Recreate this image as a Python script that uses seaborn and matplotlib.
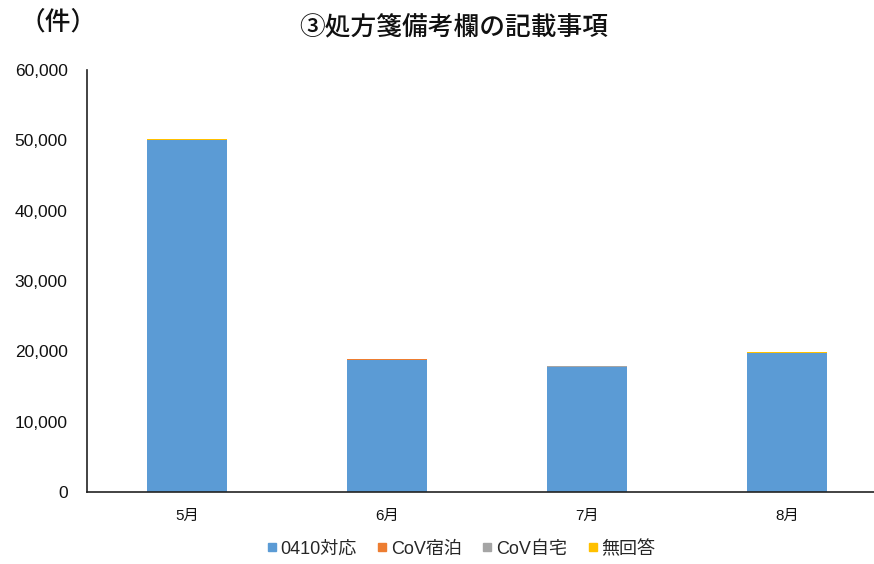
import matplotlib
matplotlib.use("Agg")
import matplotlib.pyplot as plt
import seaborn as sns
import pandas as pd
import numpy as np
from matplotlib.lines import Line2D

months = ["5月", "6月", "7月", "8月"]
series_names = ["0410対応", "CoV宿泊", "CoV自宅", "無回答"]
v_0410 = [50000, 18800, 17800, 19700]
v_shukuhaku = [60, 40, 40, 40]
v_jitaku = [20, 10, 10, 10]
v_mukaitou = [150, 120, 110, 120]
colors = ["#5B9BD5", "#ED7D31", "#A5A5A5", "#FFC000"]
yticks = [0, 10000, 20000, 30000, 40000, 50000, 60000]

sns.set_theme(style="white")
plt.rcParams['font.family'] = ['Liberation Sans', 'Noto Sans CJK JP', 'DejaVu Sans']

fig = plt.figure(figsize=(8.74, 5.64), dpi=100)
ax = fig.add_axes([87/874, 1-492/564, 800/874, 422/564])

layers = [v_0410, v_shukuhaku, v_jitaku, v_mukaitou]
cum = np.cumsum(np.array(layers), axis=0)
for i in reversed(range(len(layers))):
    df = pd.DataFrame({"month": months, "value": cum[i]})
    sns.barplot(data=df, x="month", y="value", color=colors[i], width=0.4,
                saturation=1, ax=ax, edgecolor="none")

ax.set_xlim(-0.5, 3.5)
ax.set_ylim(0, 60000)
ax.set_yticks(yticks)
ax.set_yticklabels([f"{v:,}" for v in yticks], fontsize=12.5, color="#111111")
ax.tick_params(axis="x", labelsize=11, colors="#111111", length=0, pad=12)
ax.tick_params(axis="y", length=0, pad=14)
ax.set_xlabel("")
ax.set_ylabel("")
for s in ["top", "right"]:
    ax.spines[s].set_visible(False)
ax.spines["left"].set_color("#222222")
ax.spines["bottom"].set_color("#222222")
ax.spines["left"].set_linewidth(1.2)
ax.spines["bottom"].set_linewidth(1.2)

fig.text(454/874, 1-28/564, "③処方箋備考欄の記載事項", ha="center", va="center",
         fontsize=18.5, fontweight="medium", color="#111111",
         family=['Noto Sans CJK JP', 'DejaVu Sans'])
fig.text(58/874, 1-22/564, "（件）", ha="center", va="center", fontsize=18.5,
         fontweight="medium", color="#111111", family=['Noto Sans CJK JP', 'DejaVu Sans'])

handles = [Line2D([0], [0], marker="s", linestyle="none", markersize=6,
                  markerfacecolor=c, markeredgecolor=c) for c in colors]
fig.legend(handles, series_names, loc="center", bbox_to_anchor=(460/874, 1-549/564),
           ncol=4, frameon=False, fontsize=13, handletextpad=0.1, columnspacing=1.0,
           handlelength=0.8)

fig.savefig("out.png", dpi=100)
